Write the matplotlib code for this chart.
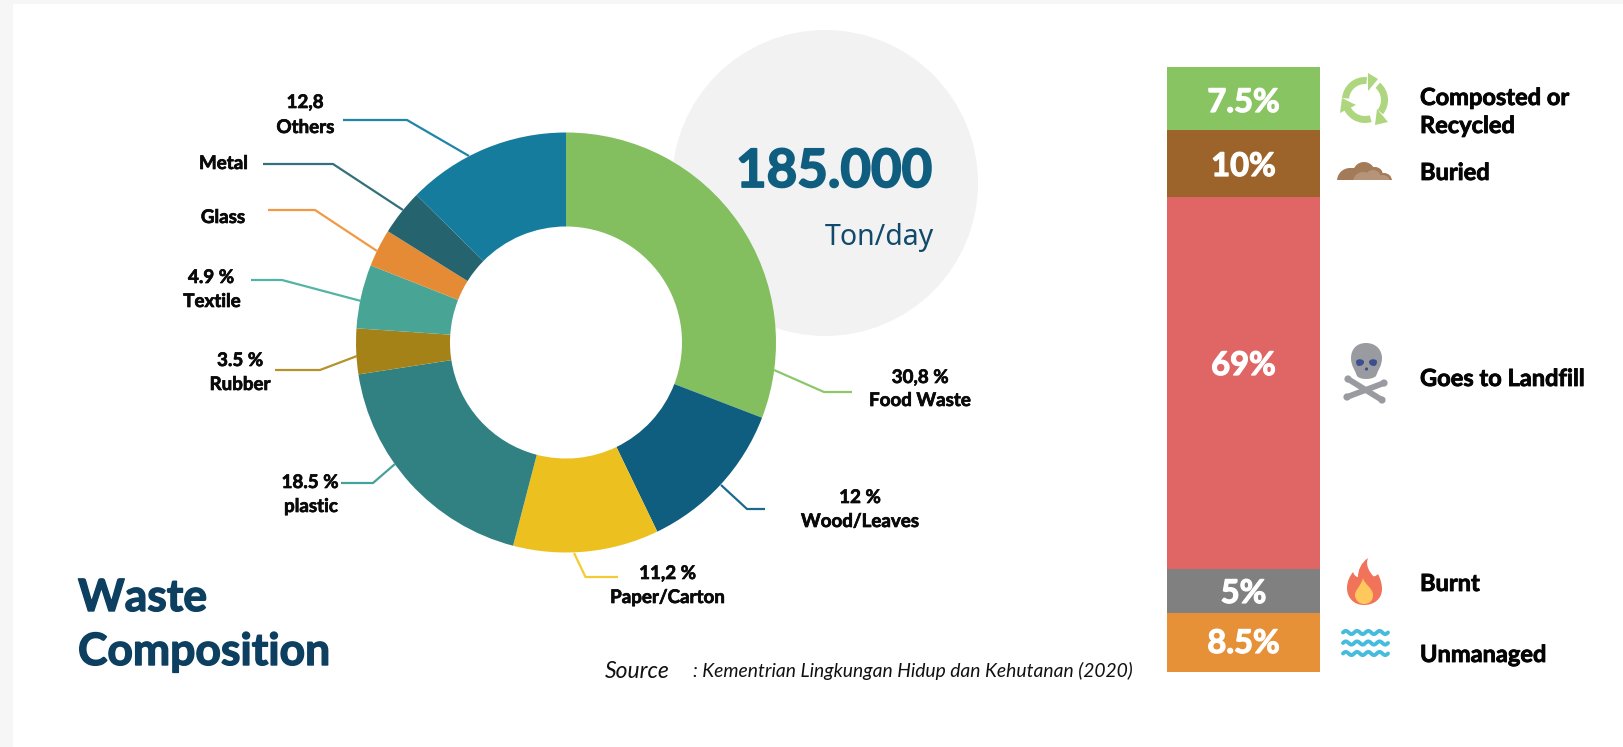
import numpy as np
import matplotlib
matplotlib.use("Agg")
import matplotlib.pyplot as plt
import matplotlib.patheffects as pe
from matplotlib.patches import Rectangle, Circle, Wedge, Polygon, PathPatch
from matplotlib.path import Path

# ---- data ----
waste_names = ["Food Waste", "Wood/Leaves", "Paper/Carton", "plastic", "Rubber",
               "Textile", "Glass", "Metal", "Others"]
waste_values = [30.8, 12.0, 11.2, 18.5, 3.5, 4.9, 2.9, 3.5, 12.6]
waste_colors = ["#83BF5F", "#0F5E80", "#ECC11F", "#318183", "#A58217",
                "#48A596", "#E58A35", "#25646F", "#167C9E"]
line_colors = ["#8CC86A", "#1B6A8C", "#F5CB34", "#46A09B", "#B5922B",
               "#52B5A3", "#F09A45", "#33707C", "#1F86A8"]
fate_labels = ["7.5%", "10%", "69%", "5%", "8.5%"]
fate_names = ["Composted or\nRecycled", "Buried", "Goes to Landfill", "Burnt", "Unmanaged"]
fate_drawn_heights = [10.4, 11.1, 61.5, 7.3, 9.7]   # as drawn (not to scale in the original)
fate_colors = ["#89C462", "#9C642B", "#E06565", "#808080", "#E69037"]

W, H = 1624, 747
FONT = "Lato"
plt.rcParams["font.family"] = [FONT, "DejaVu Sans"]
fig = plt.figure(figsize=(W / 100, H / 100), dpi=100, facecolor="white")


def heavy(color, w=0.5):
    return [pe.withStroke(linewidth=w, foreground=color)]


def px_axes(x0, y0, x1, y1, z):
    a = fig.add_axes([x0 / W, 1 - y1 / H, (x1 - x0) / W, (y1 - y0) / H], zorder=z)
    a.patch.set_alpha(0)
    a.axis("off")
    return a


# background layer, pixel coordinates
bg = px_axes(0, 0, W, H, 0)
bg.set_xlim(0, W)
bg.set_ylim(H, 0)
bg.add_patch(Rectangle((0, 0), 13, H, fc="#F6F6F6", ec="none"))
bg.add_patch(Rectangle((0, 0), W, 4, fc="#F6F6F6", ec="none"))
bg.add_patch(Circle((825, 183), 153, fc="#F2F2F2", ec="none"))

# donut
ap = px_axes(356, 132.5, 776, 552.5, 1)
ap.pie(waste_values, colors=waste_colors, startangle=90, counterclock=False, radius=1,
       wedgeprops=dict(width=(210 - 116) / 210, linewidth=0))
ap.set_xlim(-1, 1)
ap.set_ylim(-1, 1)

# stacked bar
ab = px_axes(1167, 67, 1320, 672, 1)
bottom = 0
for h, c in zip(fate_drawn_heights, fate_colors):
    ab.bar(0, h, width=1, bottom=bottom, color=c, linewidth=0)
    bottom += h
ab.set_xlim(-0.5, 0.5)
ab.set_ylim(sum(fate_drawn_heights), 0)

# foreground layer, pixel coordinates
ov = px_axes(0, 0, W, H, 2)
ov.set_xlim(0, W)
ov.set_ylim(H, 0)

# leader lines
leaders = [
    [(774, 370), (824, 392), (852, 392)],
    [(721, 485), (747, 509), (765, 509)],
    [(574, 553), (585.5, 577), (618, 577)],
    [(395, 464), (373, 483), (341, 483)],
    [(357, 356), (320, 370), (275, 370)],
    [(361, 301), (282, 280), (251, 280)],
    [(377, 251), (315, 210), (268, 210)],
    [(403, 210), (333, 164), (263, 164)],
    [(469, 156), (407, 120), (343, 120)],
]
for pts, c in zip(leaders, line_colors):
    xs, ys = zip(*pts)
    ov.plot(xs, ys, color=c, lw=1.6, solid_capstyle="butt", solid_joinstyle="miter")

# donut labels: text, centre x, baseline y
pie_texts = [
    ("30,8 %", 920, 383), ("Food Waste", 920, 406),
    ("12 %", 860, 503), ("Wood/Leaves", 860, 527),
    ("11,2 %", 667.5, 579), ("Paper/Carton", 667.5, 603),
    ("18.5 %", 310, 488), ("plastic", 311, 512),
    ("3.5 %", 240, 366), ("Rubber", 240, 390),
    ("4.9 %", 211, 283), ("Textile", 212, 307),
    ("Glass", 223, 223), ("Metal", 223.5, 169),
    ("12,8", 305, 108), ("Others", 305.5, 133),
]
for t, x, y in pie_texts:
    ov.text(x, y, t, ha="center", va="baseline", fontsize=13.5, fontweight="bold", color="#0A0A0A",
            path_effects=heavy("#0A0A0A"))

# big figure
ov.text(834, 187, "185.000", ha="center", va="baseline", fontsize=38, fontweight="bold", color="#0F5E80",
        path_effects=heavy("#0F5E80", 1.3))
ov.text(879, 245, "Ton/day", ha="center", va="baseline", fontsize=20.5, color="#124A6B",
        family=["Noto Sans", "DejaVu Sans"])

# title
ov.text(78, 611, "Waste", ha="left", va="baseline", fontsize=32, fontweight="bold", color="#0D4060",
        path_effects=heavy("#0D4060", 1.0))
ov.text(78, 665, "Composition", ha="left", va="baseline", fontsize=32, fontweight="bold", color="#0D4060",
        path_effects=heavy("#0D4060", 1.0))

# source
ov.text(605, 678, "Source", ha="left", va="baseline", fontsize=16.5, style="italic", color="#111111")
ov.text(693, 677, ": Kementrian Lingkungan Hidup dan Kehutanan (2020)", ha="left", va="baseline",
        fontsize=13.9, style="italic", color="#111111")

# bar labels
for t, y in zip(fate_labels, [112, 176, 375, 603, 653]):
    ov.text(1243.5, y, t, ha="center", va="baseline", fontsize=23.5, fontweight="bold", color="white",
            path_effects=heavy("white", 0.9))

# legend names
for t, y in zip(["Composted or", "Recycled", "Buried", "Goes to Landfill", "Burnt", "Unmanaged"],
                [105, 133, 180, 386, 591, 662]):
    ov.text(1420, y, t, ha="left", va="baseline", fontsize=17, fontweight="bold", color="#050505",
            path_effects=heavy("#050505", 0.6))

# ---- icons ----
# recycle
cx, cy = 1365, 100
GREEN = "#AED67F"
for a, b in [(-49, 38), (73, 170), (185, 275)]:
    ov.add_patch(Wedge((cx, cy), 23, a, b, width=7, fc=GREEN, ec="none"))
for tri in [[(1378, 79), (1368, 73), (1368, 91)],
            [(1375, 125), (1388, 122), (1377, 109)],
            [(1342, 98), (1356, 105), (1340, 113)]]:
    ov.add_patch(Polygon(tri, closed=True, fc=GREEN, ec="none"))

# mound
clip = Rectangle((1330, 150), 70, 30, transform=ov.transData)
for (x, y, r) in [(1350, 181, 13), (1364, 173, 11), (1353, 175, 7), (1375, 175, 8), (1384, 181, 8), (1370, 178, 10)]:
    c = Circle((x, y), r, fc="#A37B59", ec="none")
    ov.add_patch(c)
    c.set_clip_path(clip)
for (x, y, r) in [(1363, 182, 10), (1373, 178, 8), (1383, 182, 7)]:
    c = Circle((x, y), r, fc="#B59479", ec="none")
    ov.add_patch(c)
    c.set_clip_path(clip)


def curve(start, segs, **kw):
    verts, codes = [start], [Path.MOVETO]
    for s in segs:
        verts += list(s)
        codes += [Path.CURVE4] * 3
    verts.append(start)
    codes.append(Path.CLOSEPOLY)
    ov.add_patch(PathPatch(Path(verts, codes), ec="none", **kw))


# skull
GREY = "#9A9BA0"
for (a, b) in [((1348, 379), (1382, 400)), ((1384, 383), (1347, 397))]:
    ov.plot(*zip(a, b), color=GREY, lw=4.2, solid_capstyle="round")
    for p in (a, b):
        ov.add_patch(Circle(p, 3.6, fc=GREY, ec="none"))
curve((1366, 343), [
    ((1376, 343), (1382, 350), (1382, 358)),
    ((1382, 366), (1378, 370), (1376, 376)),
    ((1372, 380), (1360, 380), (1357, 376)),
    ((1355, 370), (1351, 366), (1351, 358)),
    ((1351, 350), (1356, 343), (1366, 343)),
], fc=GREY)
curve((1356, 361), [
    ((1358, 358), (1364, 359), (1364, 362)),
    ((1364, 366), (1358, 367), (1357, 365)),
    ((1356, 364), (1356, 362), (1356, 361)),
], fc="#3B4F8F")
curve((1377, 361), [
    ((1375, 358), (1369, 359), (1369, 362)),
    ((1369, 366), (1375, 367), (1376, 365)),
    ((1377, 364), (1377, 362), (1377, 361)),
], fc="#3B4F8F")
ov.add_patch(Circle((1366.5, 369), 1.6, fc="#3B4F8F", ec="none"))

# flame
curve((1368, 558), [
    ((1365, 566), (1370, 572), (1373, 576)),
    ((1375, 577), (1377, 575), (1378, 574)),
    ((1381, 580), (1382, 585), (1382, 589)),
    ((1382, 599), (1374, 605), (1364, 605)),
    ((1354, 605), (1347, 598), (1347, 588)),
    ((1347, 581), (1350, 576), (1353, 572)),
    ((1354, 575), (1356, 577), (1358, 577)),
    ((1358, 570), (1361, 563), (1368, 558)),
], fc="#F0735A")
curve((1363, 578), [
    ((1364, 584), (1373, 588), (1373, 595)),
    ((1373, 601), (1369, 604), (1364, 604)),
    ((1359, 604), (1355, 600), (1355, 595)),
    ((1355, 590), (1361, 586), (1363, 578)),
], fc="#FFC85C")

# waves
xw = np.linspace(1343, 1388, 120)
for y0 in (632.5, 643, 653.5):
    ov.plot(xw, y0 + 1.6 * np.sin((xw - 1343) / 45 * 4 * 2 * np.pi + np.pi), color="#45BCDD",
            lw=2.8, solid_capstyle="round")

fig.savefig("out.png", dpi=100, facecolor="white")
